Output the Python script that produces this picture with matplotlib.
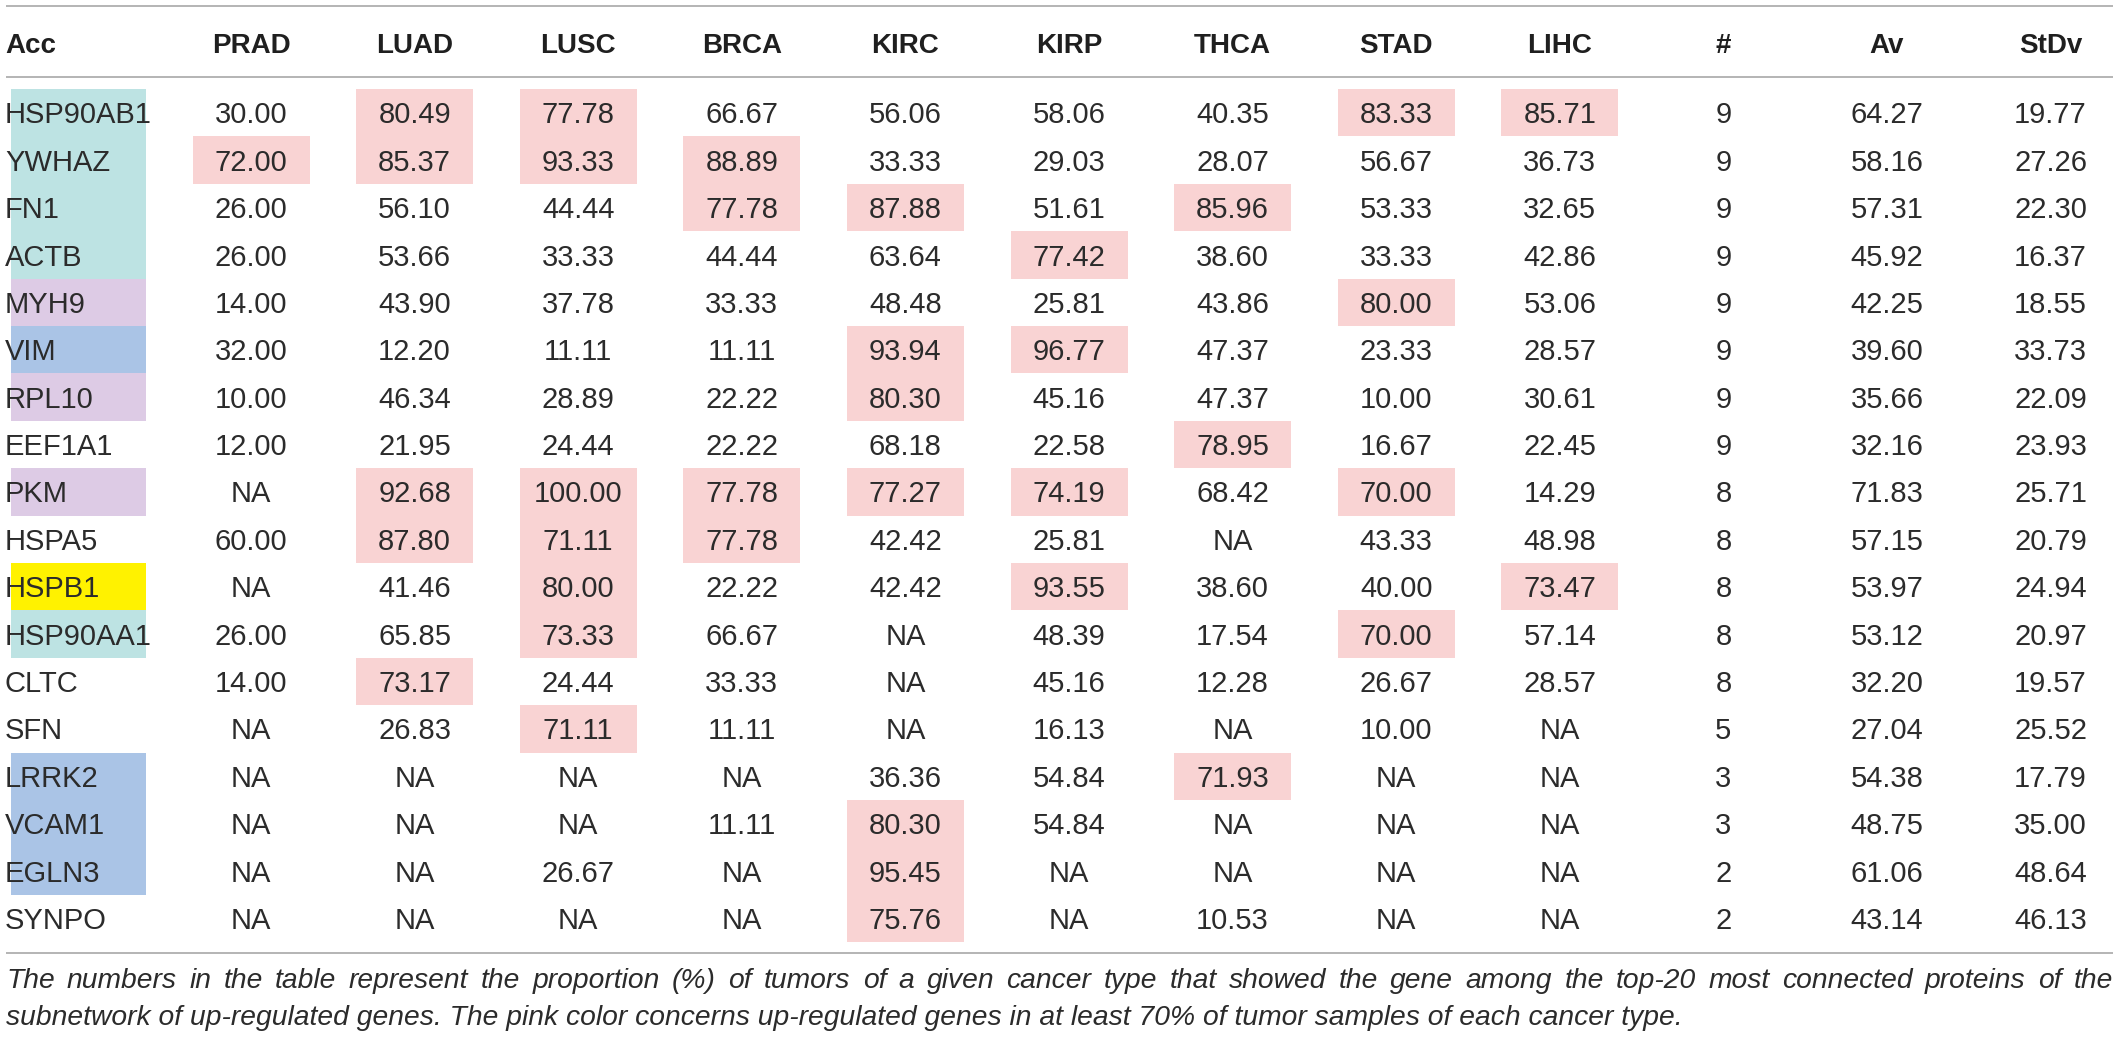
import matplotlib
matplotlib.use('Agg')
import matplotlib.pyplot as plt
from matplotlib.patches import Rectangle

# ---- table data -----------------------------------------------------------
NA = None
genes = ['HSP90AB1', 'YWHAZ', 'FN1', 'ACTB', 'MYH9', 'VIM', 'RPL10', 'EEF1A1', 'PKM',
         'HSPA5', 'HSPB1', 'HSP90AA1', 'CLTC', 'SFN', 'LRRK2', 'VCAM1', 'EGLN3', 'SYNPO']
gene_group = ['cyan', 'cyan', 'cyan', 'cyan', 'lilac', 'blue', 'lilac', None, 'lilac',
              None, 'yellow', 'cyan', None, None, 'blue', 'blue', 'blue', None]

header = ['Acc', 'PRAD', 'LUAD', 'LUSC', 'BRCA', 'KIRC', 'KIRP', 'THCA', 'STAD', 'LIHC',
          '#', 'Av', 'StDv']

prad = [30.00, 72.00, 26.00, 26.00, 14.00, 32.00, 10.00, 12.00, NA, 60.00, NA, 26.00, 14.00, NA, NA, NA, NA, NA]
luad = [80.49, 85.37, 56.10, 53.66, 43.90, 12.20, 46.34, 21.95, 92.68, 87.80, 41.46, 65.85, 73.17, 26.83, NA, NA, NA, NA]
lusc = [77.78, 93.33, 44.44, 33.33, 37.78, 11.11, 28.89, 24.44, 100.00, 71.11, 80.00, 73.33, 24.44, 71.11, NA, NA, 26.67, NA]
brca = [66.67, 88.89, 77.78, 44.44, 33.33, 11.11, 22.22, 22.22, 77.78, 77.78, 22.22, 66.67, 33.33, 11.11, NA, 11.11, NA, NA]
kirc = [56.06, 33.33, 87.88, 63.64, 48.48, 93.94, 80.30, 68.18, 77.27, 42.42, 42.42, NA, NA, NA, 36.36, 80.30, 95.45, 75.76]
kirp = [58.06, 29.03, 51.61, 77.42, 25.81, 96.77, 45.16, 22.58, 74.19, 25.81, 93.55, 48.39, 45.16, 16.13, 54.84, 54.84, NA, NA]
thca = [40.35, 28.07, 85.96, 38.60, 43.86, 47.37, 47.37, 78.95, 68.42, NA, 38.60, 17.54, 12.28, NA, 71.93, NA, NA, 10.53]
stad = [83.33, 56.67, 53.33, 33.33, 80.00, 23.33, 10.00, 16.67, 70.00, 43.33, 40.00, 70.00, 26.67, 10.00, NA, NA, NA, NA]
lihc = [85.71, 36.73, 32.65, 42.86, 53.06, 28.57, 30.61, 22.45, 14.29, 48.98, 73.47, 57.14, 28.57, NA, NA, NA, NA, NA]
count = [9, 9, 9, 9, 9, 9, 9, 9, 8, 8, 8, 8, 8, 5, 3, 3, 2, 2]
av = [64.27, 58.16, 57.31, 45.92, 42.25, 39.60, 35.66, 32.16, 71.83, 57.15, 53.97, 53.12, 32.20, 27.04, 54.38, 48.75, 61.06, 43.14]
stdv = [19.77, 27.26, 22.30, 16.37, 18.55, 33.73, 22.09, 23.93, 25.71, 20.79, 24.94, 20.97, 19.57, 25.52, 17.79, 35.00, 48.64, 46.13]

cancer_cols = [prad, luad, lusc, brca, kirc, kirp, thca, stad, lihc]
threshold = 70.0

caption = ['The numbers in the table represent the proportion (%) of tumors of a given cancer type '
           'that showed the gene among the top-20 most connected proteins of the',
           'subnetwork of up-regulated genes. The pink color concerns up-regulated genes in at least '
           '70% of tumor samples of each cancer type.']

# ---- style ----------------------------------------------------------------
group_colors = {'cyan': '#bde3e3', 'lilac': '#ddcbe5', 'blue': '#aac4e6', 'yellow': '#fff200'}
pink = '#f9d3d3'
txt_col = '#2b2b2b'
rule_col = '#a8a8a8'
font = 'Liberation Sans'

W, H = 2119, 1040
row_top, row_h = 89, 47.4
col_x0, col_dx = 251, 163.6
cell_w = 117

fig = plt.figure(figsize=(W / 100, H / 100), dpi=100)
ax = fig.add_axes([0, 0, 1, 1])
ax.set_xlim(0, W)
ax.set_ylim(H, 0)
ax.axis('off')

# rules
ax.hlines([6, 77, 953], 6, 2113, color=rule_col, lw=1.2)

# header
ax.text(5, 53, header[0], ha='left', va='baseline', fontsize=20, fontweight='bold',
        family=font, color='#1f1f1f')
for j, h in enumerate(header[1:]):
    ax.text(col_x0 + j * col_dx, 53, h, ha='center', va='baseline', fontsize=20,
            fontweight='bold', family=font, color='#1f1f1f')

# body
for i, g in enumerate(genes):
    top = row_top + i * row_h
    base = top + 34.3
    if gene_group[i]:
        ax.add_patch(Rectangle((11, top), 135, row_h, color=group_colors[gene_group[i]], lw=0))
    ax.text(5, base, g, ha='left', va='baseline', fontsize=21, family=font, color=txt_col)

    row_vals = [c[i] for c in cancer_cols]
    for j, v in enumerate(row_vals):
        cx = col_x0 + j * col_dx
        if v is not None and v >= threshold:
            ax.add_patch(Rectangle((cx - cell_w / 2, top), cell_w, row_h, color=pink, lw=0))
        s = 'NA' if v is None else f'{v:.2f}'
        ax.text(cx, base, s, ha='center', va='baseline', fontsize=21, family=font, color=txt_col)

    extras = [str(count[i]), f'{av[i]:.2f}', f'{stdv[i]:.2f}']
    for k, s in enumerate(extras):
        cx = col_x0 + (9 + k) * col_dx
        ax.text(cx, base, s, ha='center', va='baseline', fontsize=21, family=font, color=txt_col)

# caption, first line justified
cap_size = 20.3
r = fig.canvas.get_renderer()
words = caption[0].split(' ')
objs = [ax.text(0, 988, w, ha='left', va='baseline', fontsize=cap_size, style='italic',
                family=font, color=txt_col) for w in words]
widths = [o.get_window_extent(r).width for o in objs]
left, right = 6, 2113
gap = (right - left - sum(widths)) / (len(words) - 1)
x = left
for o, w in zip(objs, widths):
    o.set_x(x)
    x += w + gap
ax.text(left, 1025, caption[1], ha='left', va='baseline', fontsize=cap_size, style='italic',
        family=font, color=txt_col)

fig.savefig('out.png', dpi=100)
